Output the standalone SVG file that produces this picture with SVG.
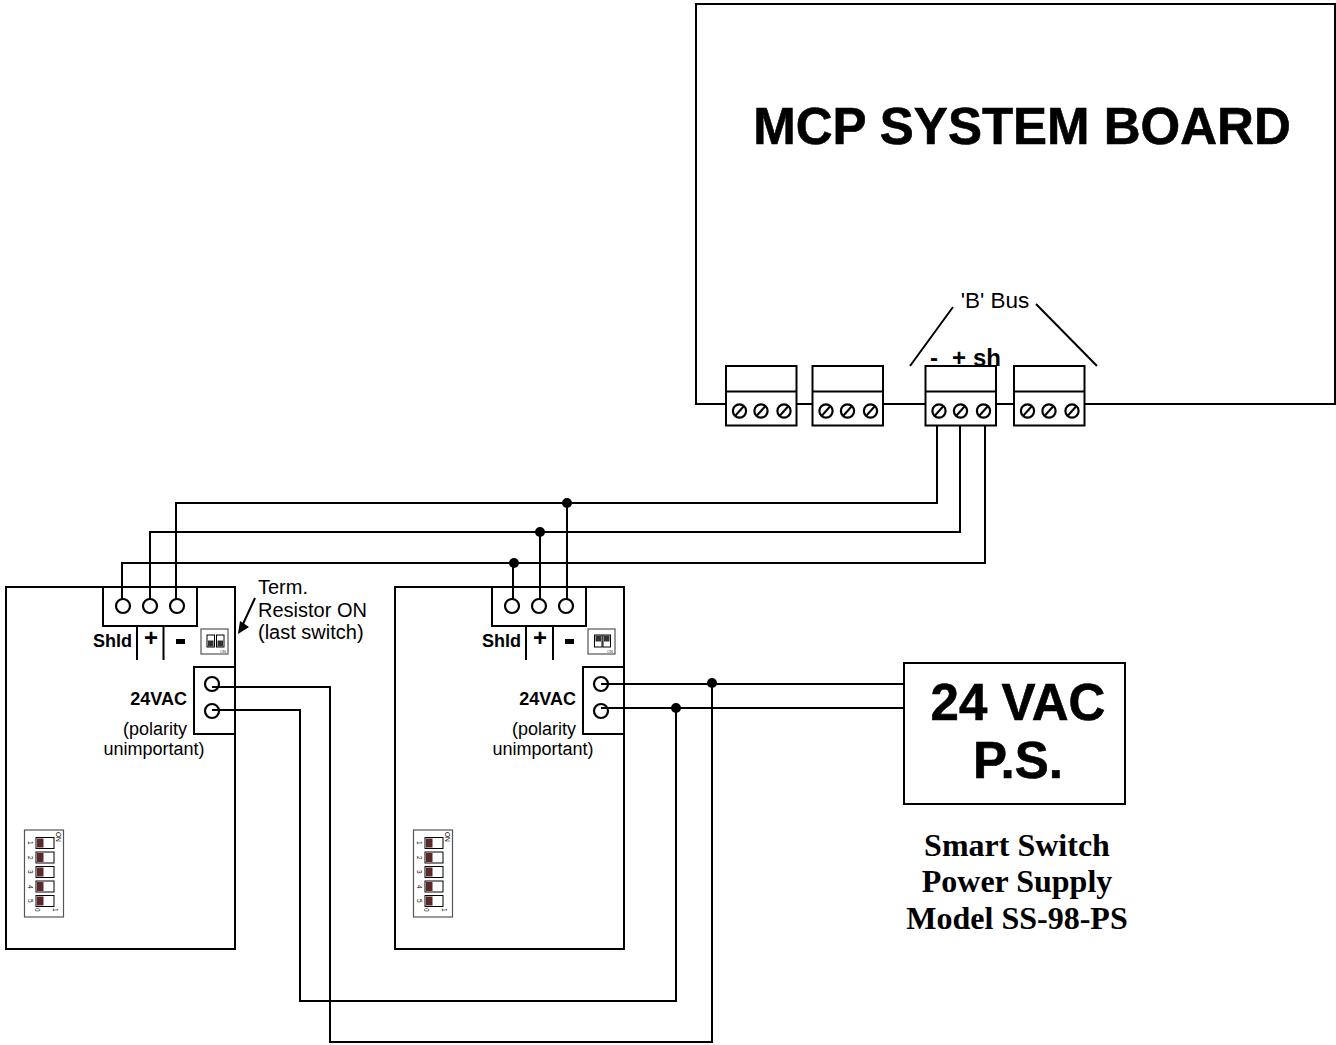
<svg xmlns="http://www.w3.org/2000/svg" width="1336" height="1045" viewBox="0 0 1336 1045">
<style>
.b{fill:#fff;stroke:#000;stroke-width:2}
.w{fill:none;stroke:#000;stroke-width:2}
.s{fill:none;stroke:#000;stroke-width:2}
.c{fill:#fff;stroke:#000;stroke-width:2.2}
.d{fill:#000;stroke:none}
.sw{fill:#fff;stroke:#000;stroke-width:1}
.k{fill:#5a2a2a;stroke:none}
.g{fill:#fff;stroke:#555;stroke-width:1.2}
text{font-family:"Liberation Sans",Arial,sans-serif;fill:#000}
.bd{font-weight:700}
.hv{stroke:#000;stroke-width:.6}
.t18{font-size:18px}
.t20{font-size:20px}
.t24{font-size:24px}
.tiny{font-size:6.5px;fill:#333}
.se{font-family:"Liberation Serif","Times New Roman",serif;font-weight:700;font-size:32px;text-anchor:middle}
</style>
<defs>
<g id="screw"><circle r="6.6" class="c"/><path d="M-4 4.500L4 -4.500" class="s"/></g>
<g id="tb">
<rect x="0" y="0" width="70.500" height="59.500" class="b"/>
<path d="M0 25.500H70.500" class="s"/>
<use href="#screw" x="13.500" y="45"/><use href="#screw" x="35" y="45"/><use href="#screw" x="58" y="45"/>
</g>
<g id="dip5">
<rect x="0" y="0" width="39" height="87" class="g"/>
<g id="sw1"><rect x="11.500" y="7.500" width="18" height="11" class="sw"/><rect x="12.500" y="8.500" width="6.500" height="9" class="k"/></g>
<use href="#sw1" y="14.500"/><use href="#sw1" y="29"/><use href="#sw1" y="43.500"/><use href="#sw1" y="58"/>
<g class="tiny">
<text transform="translate(3,11) rotate(90)">1</text>
<text transform="translate(3,26) rotate(90)">2</text>
<text transform="translate(3,40) rotate(90)">3</text>
<text transform="translate(3,55) rotate(90)">4</text>
<text transform="translate(3,69) rotate(90)">5</text>
<text transform="translate(10,78) rotate(90)">0</text>
<text transform="translate(28,78) rotate(90)">1</text>
<text transform="translate(31,2) rotate(90)">ON</text>
</g>
</g>
<g id="dip2a">
<rect x="0" y="0" width="27" height="25" class="g"/>
<rect x="6" y="6" width="7.500" height="12" class="sw"/><rect x="7" y="11.500" width="5.500" height="6" fill="#333"/>
<rect x="15.500" y="6" width="7.500" height="12" class="sw"/><rect x="16.500" y="11.500" width="5.500" height="6" fill="#333"/>
<text x="19" y="24" class="tiny" style="font-size:4px">ON</text>
</g>
<g id="dip2b">
<rect x="0" y="0" width="27" height="25" class="g"/>
<rect x="6.500" y="6" width="7.500" height="12" class="sw"/><rect x="7.500" y="6.500" width="5.500" height="6" fill="#333"/>
<rect x="15" y="6" width="7.500" height="12" class="sw"/><rect x="16" y="6.500" width="5.500" height="6" fill="#333"/>
<text x="19" y="24" class="tiny" style="font-size:4px">ON</text>
</g>
</defs>

<g id="mcp-board">
<path d="M726 404H696V4H1335V404H1084" class="s"/>
<path d="M797 404H812M883 404H926M996 404H1014" class="s"/>
<text x="1022" y="144" text-anchor="middle" class="bd hv" style="font-size:51px">MCP SYSTEM BOARD</text>
<text x="995" y="308" text-anchor="middle" style="font-size:22.500px">'B' Bus</text>
<path d="M953 307L910 366M1036 304L1097 366" class="s"/>
<text x="930" y="366" class="bd t24">-</text>
<text x="952" y="366" class="bd t24">+</text>
<text x="973" y="366" class="bd t24">sh</text>
</g>
<g id="tb-1"><use href="#tb" x="726" y="366"/></g>
<g id="tb-2"><use href="#tb" x="812.500" y="366"/></g>
<g id="tb-3"><use href="#tb" x="925.500" y="366"/></g>
<g id="tb-4"><use href="#tb" x="1014" y="366"/></g>

<g id="device-1">
<rect x="6" y="587" width="229" height="362" class="b"/>
<rect x="103" y="587" width="94" height="39" class="b"/>
<path d="M137 626V660M163.500 626V660" class="s"/>
<circle cx="123" cy="606" r="7" class="c"/><circle cx="150" cy="606" r="7" class="c"/><circle cx="177" cy="606" r="7" class="c"/>
<text x="93" y="647" class="bd t18">Shld</text>
<text x="151" y="646" text-anchor="middle" class="bd" style="font-size:24px">+</text>
<rect x="176" y="639" width="9" height="5" class="d"/>
<use href="#dip2a" x="201" y="629"/>
<rect x="194" y="667" width="41" height="67" class="b"/>
<circle cx="212" cy="684" r="7" class="c"/><circle cx="212" cy="711" r="7" class="c"/>
<text x="187" y="705" text-anchor="end" class="bd t18">24VAC</text>
<text x="155" y="735" text-anchor="middle" class="t18">(polarity</text>
<text x="154" y="755" text-anchor="middle" class="t18">unimportant)</text>
<use href="#dip5" x="24.500" y="830"/>
</g>
<g id="device-2">
<rect x="395" y="587" width="229" height="362" class="b"/>
<rect x="492" y="587" width="94" height="39" class="b"/>
<path d="M526 626V660M553 626V660" class="s"/>
<circle cx="512" cy="606" r="7" class="c"/><circle cx="539" cy="606" r="7" class="c"/><circle cx="566" cy="606" r="7" class="c"/>
<text x="482" y="647" class="bd t18">Shld</text>
<text x="540" y="646" text-anchor="middle" class="bd" style="font-size:24px">+</text>
<rect x="565" y="639" width="9" height="5" class="d"/>
<use href="#dip2b" x="588" y="629"/>
<rect x="583" y="667" width="41" height="67" class="b"/>
<circle cx="601" cy="684" r="7" class="c"/><circle cx="601" cy="711" r="7" class="c"/>
<text x="576" y="705" text-anchor="end" class="bd t18">24VAC</text>
<text x="544" y="735" text-anchor="middle" class="t18">(polarity</text>
<text x="543" y="755" text-anchor="middle" class="t18">unimportant)</text>
<use href="#dip5" x="413.500" y="830"/>
</g>
<g id="term-note">
<text x="258" y="594" class="t20">Term.</text>
<text x="258" y="617" class="t20">Resistor ON</text>
<text x="258" y="639" class="t20">(last switch)</text>
<path d="M255 598L243 624" class="s"/>
<polygon points="238,634 240,621 249,627" class="d"/>
</g>
<g id="power-supply">
<rect x="904" y="663" width="221" height="141" class="b"/>
<text x="1018" y="720" text-anchor="middle" class="bd hv" style="font-size:51px">24 VAC</text>
<text x="1018" y="778" text-anchor="middle" class="bd hv" style="font-size:51px">P.S.</text>
<text x="1017" y="856" class="se">Smart Switch</text>
<text x="1017" y="892" class="se">Power Supply</text>
<text x="1017" y="929" class="se">Model SS-98-PS</text>
</g>
<g id="connectors">
<path d="M937 426V503H176V599" class="w"/>
<path d="M960 426V532H150V599" class="w"/>
<path d="M985 426V563H122V599" class="w"/>
<path d="M567 503V599M540 532V599M513 563V599" class="w"/>
<path d="M212 687H330V1042H712V683" class="w"/>
<path d="M212 710H300V1001H676V708" class="w"/>
<path d="M601 684H904M601 708H904" class="w"/>
<circle cx="567" cy="503" r="5" class="d"/>
<circle cx="540" cy="532" r="5" class="d"/>
<circle cx="514" cy="563" r="5" class="d"/>
<circle cx="712" cy="683" r="5" class="d"/>
<circle cx="676" cy="708" r="5" class="d"/>
</g>
</svg>
